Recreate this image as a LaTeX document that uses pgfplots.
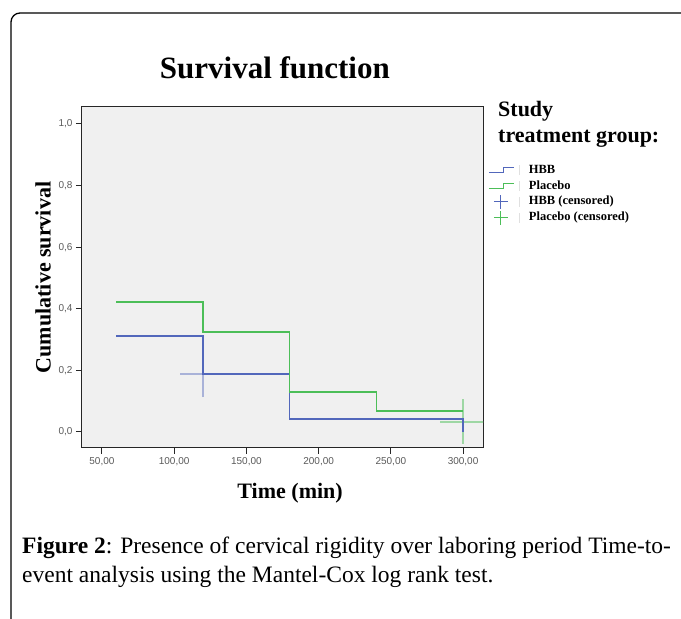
\documentclass[border=0pt]{standalone}
\usepackage{fontspec}
\setmainfont{Liberation Serif}
\setsansfont{Liberation Sans}
\usepackage{pgfplots}
\pgfplotsset{compat=1.18}

\definecolor{hbbblue}{RGB}{82,103,187}
\definecolor{plgreen}{RGB}{76,190,88}
\definecolor{plotbg}{RGB}{240,240,240}
\colorlet{hbbcens}{hbbblue!45!plotbg}
\colorlet{plcens}{plgreen!50!plotbg}

\begin{document}
\begin{tikzpicture}
\path[use as bounding box] (0pt,0pt) rectangle (681pt,619pt);
% outer frame
\draw[line width=1.3pt, rounded corners=9pt] (11pt,-20pt) -- (11pt,606pt) -- (720pt,606pt);

\begin{axis}[
    at={(82pt,171pt)}, anchor=south west,
    scale only axis, width=401pt, height=341pt,
    xmin=36.2, xmax=313.8, ymin=-0.052, ymax=1.055,
    axis background/.style={fill=plotbg},
    axis line style={draw=black!85, line width=1pt},
    xtick={50,100,150,200,250,300},
    xticklabels={{50,00},{100,00},{150,00},{200,00},{250,00},{300,00}},
    ytick={0,0.2,0.4,0.6,0.8,1},
    yticklabels={{0,0},{0,2},{0,4},{0,6},{0,8},{1,0}},
    tick align=outside, xtick pos=bottom, ytick pos=left,
    major tick length=6pt,
    tick style={black!85, line width=1pt},
    ticklabel style={font=\fontsize{10}{12}\selectfont\sffamily, text=black!65},
    title={Survival function},
    title style={font=\fontsize{31}{36}\selectfont\bfseries, at={(axis description cs:0.481,1.097)}, anchor=center},
    xlabel={Time (min)},
    xlabel style={font=\fontsize{22}{26}\selectfont\bfseries, at={(axis description cs:0.519,-0.132)}, anchor=center},
    ylabel={Cumulative survival},
    ylabel style={font=\fontsize{22}{26}\selectfont\bfseries, at={(axis description cs:-0.097,0.5)}, anchor=center},
    legend style={at={(rel axis cs:1.0125,0.836)}, anchor=north west, draw=none, fill=none,
        inner sep=0pt, row sep=1pt,
        font=\fontsize{12.5}{14}\selectfont\bfseries,
        nodes={inner sep=1.5pt, text height=9pt, text depth=2.5pt}},
    legend cell align=left,
]

% legend entries
\addlegendimage{hbbblue, line width=1.2pt, legend image code/.code={
    \draw (0pt,-2.5pt) -- (15pt,-2.5pt) -- (15pt,2.5pt) -- (25pt,2.5pt);
    \draw[black!12, line width=1pt] (31pt,-5pt) -- (31pt,5pt);
    \path (38pt,0pt);}}
\addlegendentry{HBB}
\addlegendimage{plgreen, line width=1.2pt, legend image code/.code={
    \draw (0pt,-2.5pt) -- (15pt,-2.5pt) -- (15pt,2.5pt) -- (25pt,2.5pt);
    \draw[black!12, line width=1pt] (31pt,-5pt) -- (31pt,5pt);
    \path (38pt,0pt);}}
\addlegendentry{Placebo}
\addlegendimage{hbbblue, line width=1pt, legend image code/.code={
    \draw (5pt,0pt) -- (19pt,0pt) (12pt,-7pt) -- (12pt,7pt);
    \draw[black!12, line width=1pt] (31pt,-5pt) -- (31pt,5pt);
    \path (38pt,0pt);}}
\addlegendentry{HBB (censored)}
\addlegendimage{plgreen, line width=1pt, legend image code/.code={
    \draw (5pt,0pt) -- (19pt,0pt) (12pt,-7pt) -- (12pt,7pt);
    \draw[black!12, line width=1pt] (31pt,-5pt) -- (31pt,5pt);
    \path (38pt,0pt);}}
\addlegendentry{Placebo (censored)}

% censored crosses (faint, drawn below the curves)
\addplot[forget plot, hbbcens, line width=2pt] coordinates {(104.1,0.188) (135.9,0.188)};
\addplot[forget plot, hbbcens, line width=2pt] coordinates {(120,0.113) (120,0.263)};
\addplot[forget plot, plcens, line width=2pt] coordinates {(284.1,0.034) (315.9,0.034)};
\addplot[forget plot, plcens, line width=2pt] coordinates {(300,-0.039) (300,0.107)};
% survival steps
\addplot[forget plot, const plot, hbbblue, line width=1.4pt] coordinates {
    (60,0.312) (120,0.188) (180,0.042) (300,0.042) (300,0.0)
};
\addplot[forget plot, const plot, plgreen, line width=1.4pt] coordinates {
    (60,0.422) (120,0.325) (180,0.130) (240,0.068) (300,0.068)
};
\end{axis}

% legend title
\node[anchor=base west, inner sep=0pt, font=\fontsize{22}{26}\selectfont\bfseries] at (498pt,502pt) {Study};
\node[anchor=base west, inner sep=0pt, font=\fontsize{22}{26}\selectfont\bfseries] at (498pt,476pt) {treatment group:};

% caption
\node[anchor=base west, inner sep=0pt, font=\fontsize{23.5}{28}\selectfont] at (22pt,65pt) {\textbf{Figure 2}: Presence of cervical rigidity over laboring period Time-to-};
\node[anchor=base west, inner sep=0pt, font=\fontsize{23.5}{28}\selectfont] at (22pt,36pt) {event analysis using the Mantel-Cox log rank test.};
\end{tikzpicture}
\end{document}
